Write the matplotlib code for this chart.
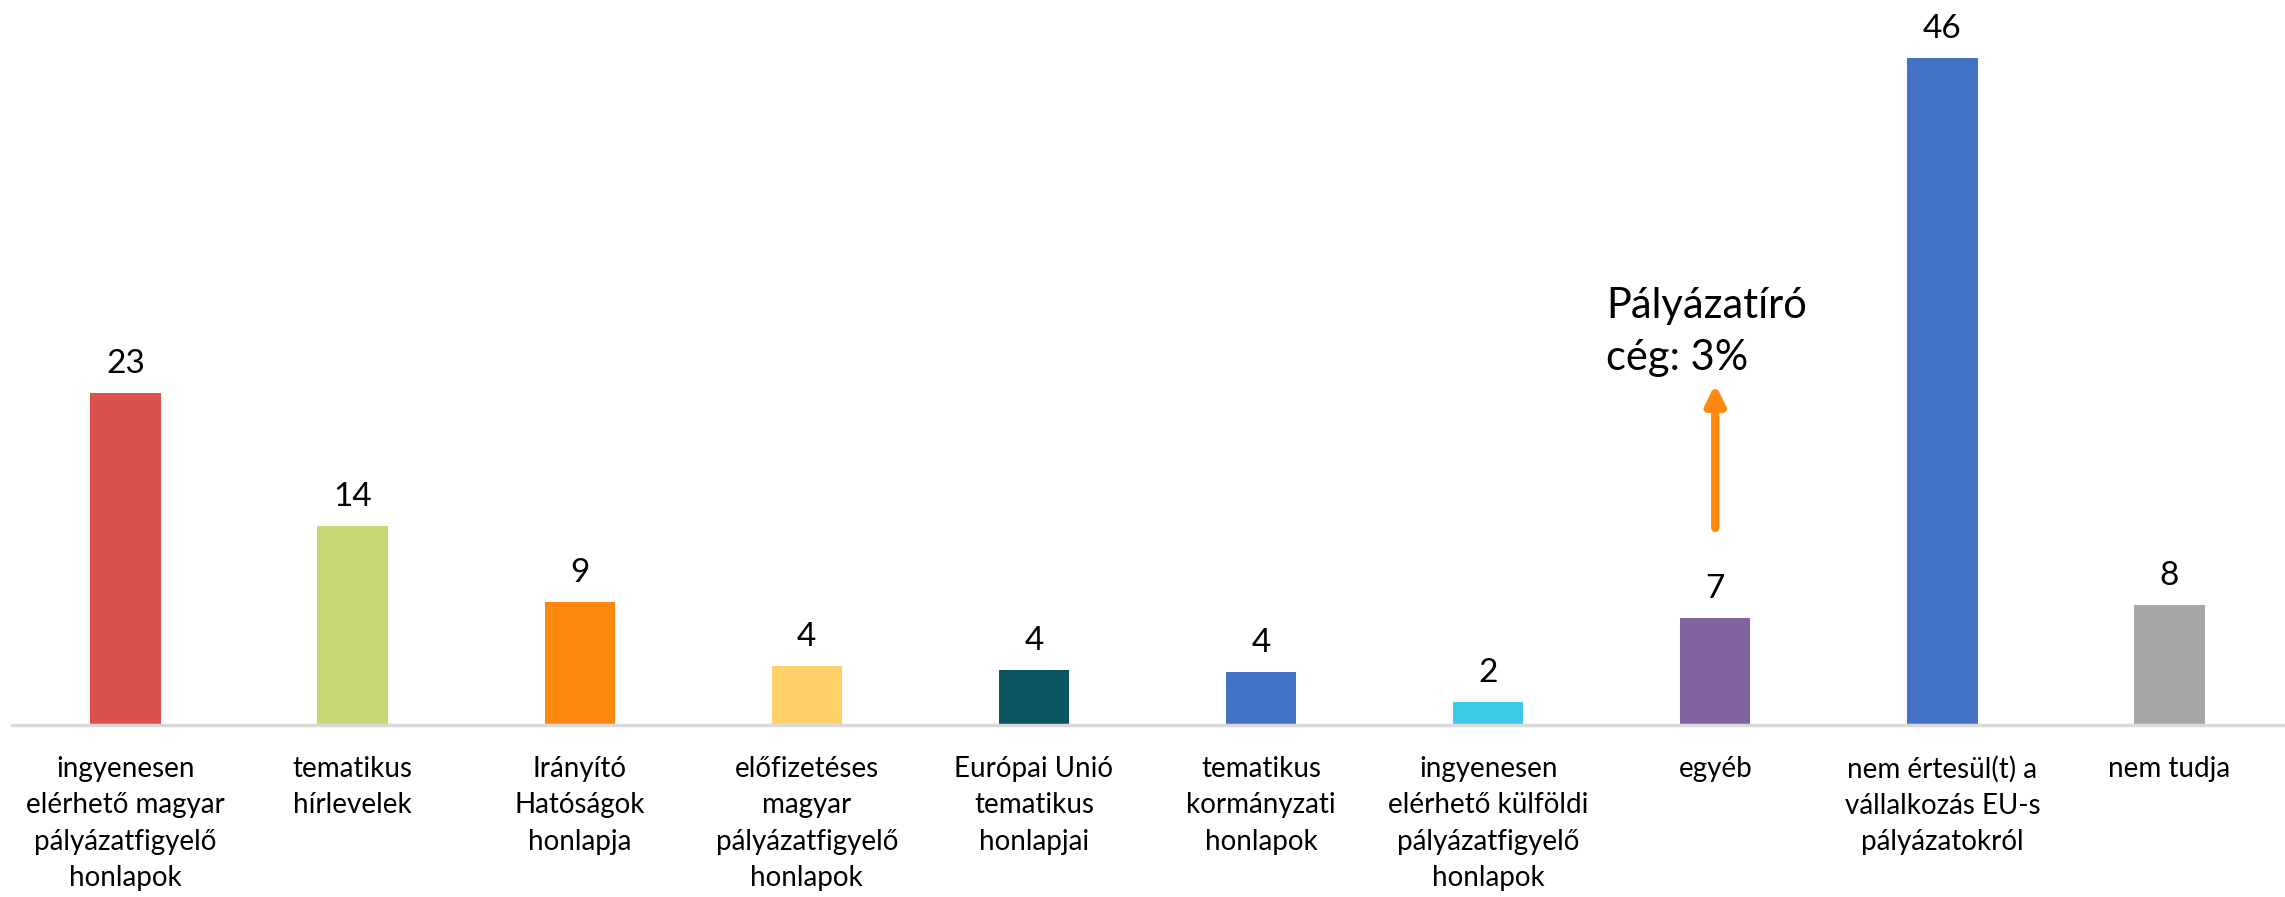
import matplotlib.pyplot as plt
import numpy as np

plt.rcParams['font.family'] = ['Lato', 'DejaVu Sans']

categories = [
    'ingyenesen\nelérhető magyar\npályázatfigyelő\nhonlapok',
    'tematikus\nhírlevelek',
    'Irányító\nHatóságok\nhonlapja',
    'előfizetéses\nmagyar\npályázatfigyelő\nhonlapok',
    'Európai Unió\ntematikus\nhonlapjai',
    'tematikus\nkormányzati\nhonlapok',
    'ingyenesen\nelérhető külföldi\npályázatfigyelő\nhonlapok',
    'egyéb',
    'nem értesül(t) a\nvállalkozás EU-s\npályázatokról',
    'nem tudja',
]
values = [23.0, 13.8, 8.5, 4.1, 3.8, 3.7, 1.6, 7.4, 46.2, 8.3]
value_labels = ['23', '14', '9', '4', '4', '4', '2', '7', '46', '8']
colors = ['#DB514C', '#C5D871', '#FF8811', '#FFD06A', '#0D5563',
          '#4472C4', '#3DC9E8', '#8064A2', '#4472C4', '#A6A6A6']

note_text = 'Pályázatíró\ncég: 3%'
note_bar = 7

fig = plt.figure(figsize=(22.85, 8.97), dpi=100)
ax = fig.add_axes([12 / 2285, 1 - 725 / 897, (2283 - 12) / 2285, 722 / 897])

x = np.arange(len(values))
ax.bar(x, values, width=0.31, color=colors, zorder=2)

for xi, v, lab in zip(x, values, value_labels):
    ax.annotate(lab, (xi, v), xytext=(0, 10), textcoords='offset points',
                ha='center', va='bottom', fontsize=24, color='black')

ax.set_xlim(-0.5, len(values) - 0.5)
ax.set_ylim(0, 50)

for side in ['top', 'right', 'left']:
    ax.spines[side].set_visible(False)
ax.spines['bottom'].set_color('#D9D9D9')
ax.spines['bottom'].set_linewidth(2.5)
ax.set_yticks([])
ax.set_xticks(x)
ax.set_xticklabels(categories, fontsize=20, linespacing=1.5, va='top',
                   multialignment='center')
ax.tick_params(axis='x', length=0, pad=22)

# arrow and note above the 'egyéb' bar
ax.annotate('', xy=(note_bar, 23.6), xytext=(note_bar, 13.65),
            arrowprops=dict(arrowstyle='-|>,head_width=0.55,head_length=1.1',
                            color='#FF8811', lw=6, shrinkA=0, shrinkB=0))
ax.text(note_bar - 0.48, 24.1, note_text, ha='left', va='bottom',
        fontsize=30, linespacing=1.45, color='black')

plt.savefig('out.png', dpi=100)
plt.close()
